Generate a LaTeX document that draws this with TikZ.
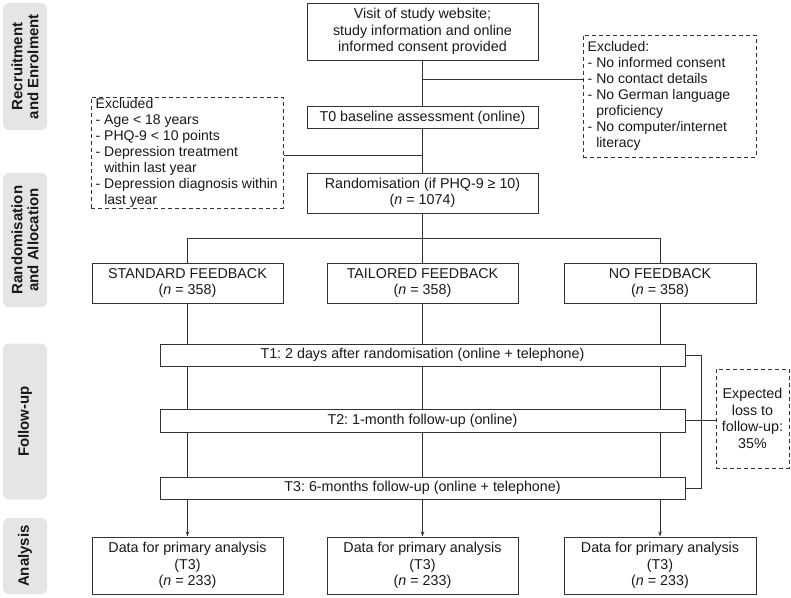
\documentclass[tikz,border=0pt]{standalone}
\usepackage{fontspec}
\setmainfont{Liberation Sans}
\usetikzlibrary{arrows.meta}
\frenchspacing
\begin{document}
\begin{tikzpicture}[x=1pt,y=-1pt,
  every node/.style={font=\fontsize{14.3}{16.5}\selectfont, inner sep=0pt, text=black!90},
  box/.style={draw=black!80, line width=1pt, align=center},
  exbox/.style={draw=black!80, line width=1pt, dash pattern=on 4pt off 3pt},
  extext/.style={font=\fontsize{14}{16}\selectfont, align=left, anchor=west},
  side/.style={fill=black!10, rounded corners=6pt, minimum width=44pt},
  sidetext/.style={font=\fontsize{15}{16}\selectfont\bfseries, rotate=90, align=center},
  conn/.style={draw=black!80, line width=1pt},
  arr/.style={conn, -{Stealth[length=5pt,width=3.5pt]}}
]
\useasboundingbox (0,0) rectangle (791,597);

% side labels
\node[side, minimum height=127pt] (s1) at (25,66.5) {};
\node[sidetext] (s1t) at (s1) {Recruitment\\and Enrolment};
\node[side, minimum height=134pt] (s2) at (25,240) {};
\node[sidetext] (s2t) at (s2) {Randomisation\\and Allocation};
\node[side, minimum height=156pt] (s3) at (25,421.5) {};
\node[sidetext] (s3t) at (s3) {Follow-up};
\node[side, minimum height=76pt] (s4) at (25,556) {};
\node[sidetext] (s4t) at (s4) {Analysis};

% main boxes
\node[box, minimum width=231pt, minimum height=57pt] (visit) at (422.5,31.5)
  {Visit of study website;\\study information and online\\informed consent provided};
\node[box, minimum width=231pt, minimum height=22pt] (t0) at (422.5,117.5)
  {T0 baseline assessment (online)};
\node[box, minimum width=231pt, minimum height=40pt] (rand) at (422.5,193)
  {Randomisation (if PHQ-9 ≥ 10)\\(\textit{n} = 1074)};

\node[exbox, minimum width=173pt, minimum height=122pt] (exR) at (669.5,96) {};
\node[extext] (exRt) at ([xshift=5pt]exR.west)
  {Excluded:\\- No informed consent\\- No contact details\\- No German language\\\phantom{- }proficiency\\- No computer/internet\\\phantom{- }literacy};
\node[exbox, minimum width=192pt, minimum height=111pt] (exL) at (187,152.5) {};
\node[extext] (exLt) at ([xshift=5pt]exL.west)
  {Excluded\\- Age < 18 years\\- PHQ-9 < 10 points\\- Depression treatment\\\phantom{- }within last year\\- Depression diagnosis within\\\phantom{- }last year};

\node[box, minimum width=191pt, minimum height=40pt] (std) at (187.5,283)
  {STANDARD FEEDBACK\\(\textit{n} = 358)};
\node[box, minimum width=191pt, minimum height=40pt] (tail) at (422.5,283)
  {TAILORED FEEDBACK\\(\textit{n} = 358)};
\node[box, minimum width=192pt, minimum height=40pt] (nofb) at (660,283)
  {NO FEEDBACK\\(\textit{n} = 358)};

\node[box, minimum width=525pt, minimum height=22pt] (t1) at (422.5,355)
  {T1: 2 days after randomisation (online + telephone)};
\node[box, minimum width=525pt, minimum height=23pt] (t2) at (422.5,420.5)
  {T2: 1-month follow-up (online)};
\node[box, minimum width=525pt, minimum height=22pt] (t3) at (422.5,488)
  {T3: 6-months follow-up (online + telephone)};

\node[exbox, align=center, minimum width=73pt, minimum height=99pt] (exp) at (752.5,418.5)
  {Expected\\loss to\\follow-up:\\35\%};

\node[box, minimum width=191pt, minimum height=57pt] (a1) at (187.5,565.5)
  {Data for primary analysis\\(T3)\\(\textit{n} = 233)};
\node[box, minimum width=191pt, minimum height=57pt] (a2) at (422.5,565.5)
  {Data for primary analysis\\(T3)\\(\textit{n} = 233)};
\node[box, minimum width=192pt, minimum height=57pt] (a3) at (660,565.5)
  {Data for primary analysis\\(T3)\\(\textit{n} = 233)};

% connectors
\draw[conn] (visit) -- (t0);
\coordinate (bR) at (422.5,79);
\draw[conn] (bR) -- (bR -| exR.west);
\draw[conn] (t0) -- (rand);
\coordinate (bL) at (422.5,155);
\draw[conn] (bL) -- (bL -| exL.east);
\coordinate (split) at (422.5,238);
\draw[conn] (rand) -- (split);
\draw[conn] (split -| std) -- (split -| nofb);
\foreach \g/\a in {std/a1, tail/a2, nofb/a3} {
  \draw[conn] (split -| \g) -- (\g);
  \draw[conn] (\g.south) -- (\g.south |- t1.north);
  \draw[conn] (\g.south |- t1.south) -- (\g.south |- t2.north);
  \draw[conn] (\g.south |- t2.south) -- (\g.south |- t3.north);
  \draw[arr] (\g.south |- t3.south) -- (\a.north);
}
\coordinate (bx) at (701,0);
\draw[conn] (t1.east) -- (t1.east -| bx) -- (t3.east -| bx) -- (t3.east);
\draw[conn] (t2.east) -- (t2.east -| exp.west);
\end{tikzpicture}
\end{document}
